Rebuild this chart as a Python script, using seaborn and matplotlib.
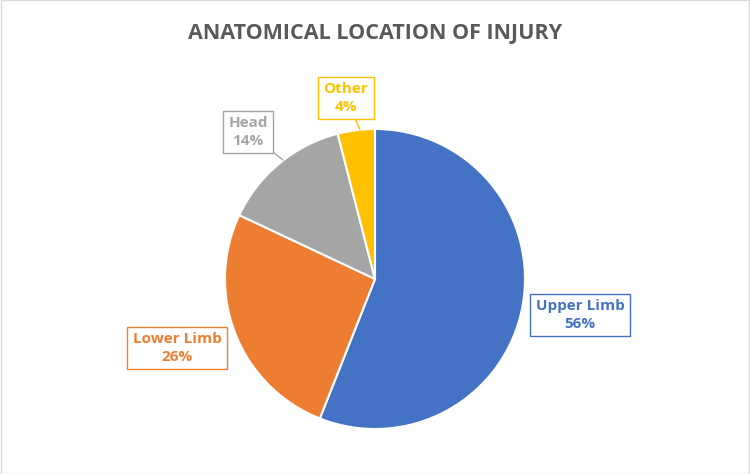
import matplotlib
matplotlib.use("Agg")
import matplotlib.pyplot as plt
import seaborn as sns

categories = ["Upper Limb", "Lower Limb", "Head", "Other"]
values = [56, 26, 14, 4]
colors = ["#4472C4", "#ED7D31", "#A5A5A5", "#FFC000"]

sns.set_theme(style="white")
plt.rcParams['font.family'] = ['Open Sans', 'DejaVu Sans']

fig = plt.figure(figsize=(7.5, 4.74), dpi=100)
ax = fig.add_axes([0, 0, 1, 1])
ax.set_xlim(0, 750)
ax.set_ylim(0, 474)
ax.axis("off")

cx, cy, r = 375, 474 - 279, 150
ax.pie(values, colors=colors, startangle=90, counterclock=False,
       center=(cx, cy), radius=r, wedgeprops=dict(edgecolor="white", linewidth=1.5),
       frame=True)
ax.set_xlim(0, 750)
ax.set_ylim(0, 474)
ax.axis("off")

# label box positions (pixel, y from top) and leader targets
boxes = [(580, 315, None), (177, 348, None), (248, 132, (283, 160)), (346, 98, (360, 130))]
for (x, y, tgt), cat, v, c in zip(boxes, categories, values, colors):
    txt = f"{cat}\n{v}%"
    kw = dict(ha="center", va="center", fontsize=11, fontweight="bold", color=c,
              linespacing=1.3,
              bbox=dict(boxstyle="square,pad=0.35", fc="white", ec=c, lw=1))
    if tgt is None:
        ax.text(x, 474 - y, txt, **kw)
    else:
        ax.annotate(txt, xy=(tgt[0], 474 - tgt[1]), xytext=(x, 474 - y),
                    arrowprops=dict(arrowstyle="-", color=c, lw=1, shrinkA=0, shrinkB=0), **kw)

fig.text(0.5, 1 - 33 / 474, "ANATOMICAL LOCATION OF INJURY", ha="center", va="center",
         fontsize=15.5, fontweight="bold", color="#595959")
fig.patches.append(plt.Rectangle((0.001, 0.001), 0.998, 0.998, transform=fig.transFigure,
                                 fill=False, ec="#D9D9D9", lw=1))
fig.savefig("out.png", dpi=100)
